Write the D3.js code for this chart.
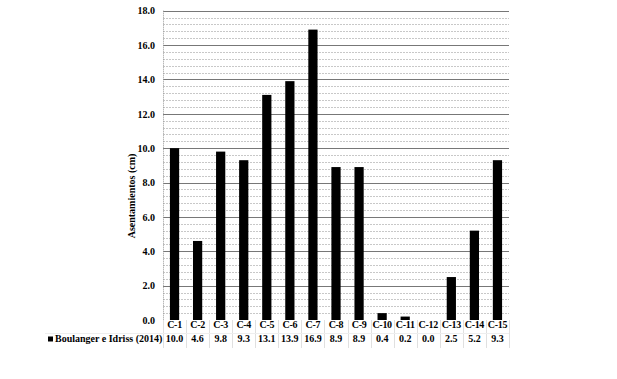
<!DOCTYPE html>
<html>
<head>
<meta charset="utf-8">
<script src="https://cdn.jsdelivr.net/npm/d3@7"></script>
<style>
  body { margin: 0; background: #fff; }
  svg text { font-family: "Liberation Serif", "Times New Roman", serif; font-weight: bold; font-size: 10px; fill: #000; }
</style>
</head>
<body>
<svg id="chart" width="617" height="379"></svg>
<script>
var categories = ["C-1", "C-2", "C-3", "C-4", "C-5", "C-6", "C-7", "C-8", "C-9", "C-10", "C-11", "C-12", "C-13", "C-14", "C-15"];
var values = [10.0, 4.6, 9.8, 9.3, 13.1, 13.9, 16.9, 8.9, 8.9, 0.4, 0.2, 0.0, 2.5, 5.2, 9.3];
var seriesName = "Boulanger e Idriss (2014)";
var yTicks = [0, 2, 4, 6, 8, 10, 12, 14, 16, 18];
var yMinorTicks = d3.range(0, 18.01, 0.4);

var svg = d3.select("#chart");
var plotLeft = 163, plotRight = 509, plotTop = 10.7, plotBottom = 320;

var x = d3.scaleBand().domain(categories).range([plotLeft, plotRight]).paddingInner(0).paddingOuter(0);
var y = d3.scaleLinear().domain([0, 18]).range([plotBottom, plotTop]);

// minor gridlines (dashed)
svg.append("g").selectAll("line")
  .data(yMinorTicks.filter(function(d) { return Math.abs(d / 2 - Math.round(d / 2)) > 0.01; }))
  .enter().append("line")
    .attr("x1", plotLeft).attr("x2", plotRight)
    .attr("y1", function(d) { return Math.round(y(d)) + 0.5; })
    .attr("y2", function(d) { return Math.round(y(d)) + 0.5; })
    .attr("stroke", "#c8c8c8")
    .attr("stroke-dasharray", "2,1");

// major gridlines
svg.append("g").selectAll("line")
  .data(yTicks.slice(1))
  .enter().append("line")
    .attr("x1", plotLeft).attr("x2", plotRight)
    .attr("y1", function(d) { return Math.round(y(d)) + 0.5; })
    .attr("y2", function(d) { return Math.round(y(d)) + 0.5; })
    .attr("stroke", "#777");

// y axis (dotted vertical)
svg.append("line")
  .attr("x1", plotLeft + 0.5).attr("x2", plotLeft + 0.5)
  .attr("y1", plotTop).attr("y2", plotBottom)
  .attr("stroke", "#999")
  .attr("stroke-dasharray", "1,1");

// y tick labels
var yAxis = d3.axisLeft(y).tickValues(yTicks).tickFormat(d3.format(".1f")).tickSize(0).tickPadding(8);
var ya = svg.append("g").attr("transform", "translate(" + plotLeft + ",0)").call(yAxis);
ya.select(".domain").remove();
ya.selectAll("text").attr("font-family", null).attr("font-size", null);

// y title
svg.append("text")
  .attr("transform", "translate(135,196) rotate(-90)")
  .attr("text-anchor", "middle")
  .text("Asentamientos (cm)");

// bars
var bw = x.bandwidth() * 0.4;
svg.append("g").selectAll("rect")
  .data(values)
  .enter().append("rect")
    .attr("x", function(d, i) { return x(categories[i]) + (x.bandwidth() - bw) / 2; })
    .attr("y", function(d) { return y(d); })
    .attr("width", bw)
    .attr("height", function(d) { return plotBottom - y(d); })
    .attr("fill", "#000");

// data table
var tableBottom = 348;
var tg = svg.append("g");
tg.selectAll("line.v")
  .data(categories.concat(["end"]))
  .enter().append("line")
    .attr("x1", function(d, i) { return Math.round(plotLeft + i * x.bandwidth()) + 0.5; })
    .attr("x2", function(d, i) { return Math.round(plotLeft + i * x.bandwidth()) + 0.5; })
    .attr("y1", plotBottom).attr("y2", tableBottom)
    .attr("stroke", "#e0e0e0");
tg.append("line")
  .attr("x1", 45).attr("x2", plotRight)
  .attr("y1", 333.5).attr("y2", 333.5)
  .attr("stroke", "#eeeeee");

tg.selectAll("text.cat")
  .data(categories)
  .enter().append("text")
    .attr("x", function(d) { return x(d) + x.bandwidth() / 2; })
    .attr("y", 327.5)
    .attr("text-anchor", "middle")
    .attr("letter-spacing", "-0.3")
    .text(function(d) { return d; });

tg.selectAll("text.val")
  .data(values)
  .enter().append("text")
    .attr("x", function(d, i) { return x(categories[i]) + x.bandwidth() / 2; })
    .attr("y", 342)
    .attr("text-anchor", "middle")
    .text(function(d) { return d3.format(".1f")(d); });

// legend key
tg.append("rect").attr("x", 48).attr("y", 336.5).attr("width", 5).attr("height", 5).attr("fill", "#000");
tg.append("text").attr("x", 55).attr("y", 342).text(seriesName);
</script>
</body>
</html>
